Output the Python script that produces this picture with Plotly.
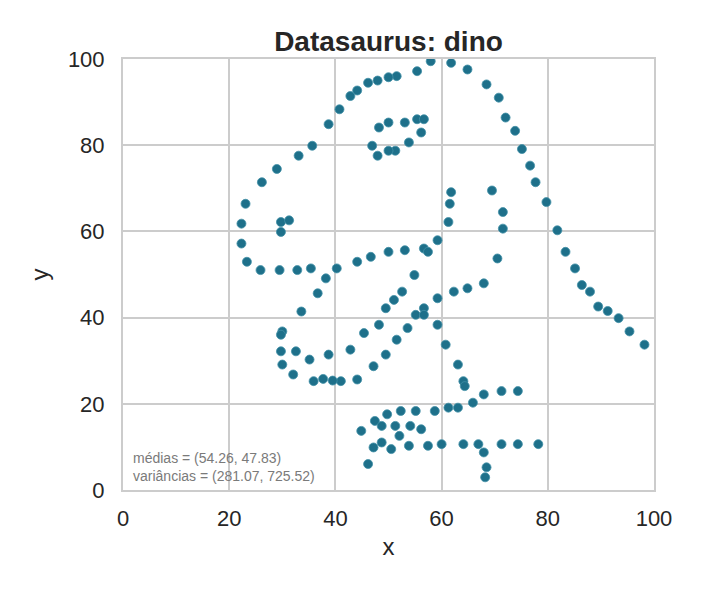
import plotly.graph_objects as go
import numpy as np

x = [55.3846,51.5385,46.1538,42.8205,40.7692,38.7179,35.6410,33.0769,28.9744,26.1538,
     23.0769,22.3077,22.3077,23.3333,25.8974,29.4872,32.8205,35.3846,40.2564,44.1026,
     46.6667,50.0000,53.0769,56.6667,59.2308,61.2821,61.5385,61.7949,57.4359,54.8718,
     52.5641,48.2051,49.4872,51.0256,45.3846,42.8205,38.7179,35.1282,32.5641,30.0000,
     33.5897,36.6667,38.2051,29.7436,29.7436,30.0000,32.0513,35.8974,41.0256,44.1026,
     47.1795,49.4872,51.5385,53.5897,55.1282,56.6667,59.2308,62.3077,64.8718,67.9487,
     70.5128,71.5385,71.5385,69.4872,46.9231,48.2051,50.0000,53.0769,55.3846,56.6667,
     56.1538,53.8462,51.2821,50.0000,47.9487,29.7436,29.7436,31.2821,57.9487,61.7949,
     64.8718,68.4615,70.7692,72.0513,73.8462,75.1282,76.6667,77.6923,79.7436,81.7949,
     83.3333,85.1282,86.4103,87.9487,89.4872,93.3333,95.3846,98.2051,56.6667,59.2308,
     60.7692,63.0769,64.1026,64.3590,74.3590,71.2821,67.9487,65.8974,63.0769,61.2821,
     58.7179,55.1282,52.3077,49.7436,47.4359,44.8718,48.7179,51.2821,54.1026,56.1538,
     52.0513,48.7179,47.1795,46.1538,50.5128,53.8462,57.4359,60.0000,64.1026,66.9231,
     71.2821,74.3590,78.2051,67.9487,68.4615,68.2051,37.6923,39.4872,91.2821,50.0000,
     47.9487,44.1026]
y = [97.1795,96.0256,94.4872,91.4103,88.3333,84.8718,79.8718,77.5641,74.4872,71.4103,
     66.4103,61.7949,57.1795,52.9487,51.0256,51.0256,51.0256,51.4103,51.4103,52.9487,
     54.1026,55.2564,55.6410,56.0256,57.9487,62.1795,66.4103,69.1026,55.2564,49.8718,
     46.0256,38.3333,42.1795,44.1026,36.4103,32.5641,31.4103,30.2564,32.1795,36.7949,
     41.4103,45.6410,49.1026,36.0256,32.1795,29.1026,26.7949,25.2564,25.2564,25.6410,
     28.7180,31.4103,34.8718,37.5641,40.6410,42.1795,44.4872,46.0256,46.7949,47.9487,
     53.7180,60.6410,64.4872,69.4872,79.8718,84.1026,85.2564,85.2564,86.0256,86.0256,
     82.9487,80.6410,78.7180,78.7180,77.5641,59.8718,62.1795,62.5641,99.4872,99.1026,
     97.5641,94.1026,91.0256,86.4103,83.3333,79.1026,75.2564,71.4103,66.7949,60.2564,
     55.2564,51.4103,47.5641,46.0256,42.5641,39.8718,36.7949,33.7180,40.6410,38.3333,
     33.7180,29.1026,25.2564,24.1026,22.9487,22.9487,22.1795,20.2564,19.1026,19.1026,
     18.3333,18.3333,18.3333,17.5641,16.0256,13.7180,14.8718,14.8718,14.8718,14.1026,
     12.5641,11.0256,9.8718,6.0256,9.4872,10.2564,10.2564,10.6410,10.6410,10.6410,
     10.6410,10.6410,10.6410,8.7180,5.2564,2.9487,25.7692,25.3846,41.5385,95.7692,
     95.0000,92.6923]

title = "Datasaurus: dino"
xa, ya = np.array(x), np.array(y)
mean_txt = f"médias = ({xa.mean():.2f}, {ya.mean():.2f})"
var_txt = f"variâncias = ({xa.var(ddof=1):.2f}, {ya.var(ddof=1):.2f})"

fig = go.Figure()
fig.add_trace(go.Scatter(
    x=x, y=y, mode="markers",
    marker=dict(size=9, color="rgb(30,112,138)",
                line=dict(width=0.8, color="rgb(66,144,167)")),
    showlegend=False))

fig.add_annotation(x=1.5, y=1.0, xref="x", yref="y", xanchor="left", yanchor="bottom",
                   text=mean_txt + "<br>" + var_txt, showarrow=False, align="left",
                   font=dict(family="Liberation Sans, Arial", size=14, color="#7a7a7a"))

axis_common = dict(range=[0, 100], tickvals=[0, 20, 40, 60, 80, 100],
                   showgrid=True, gridcolor="#cccccc", gridwidth=1.5,
                   zeroline=False, showline=True, linecolor="#cccccc", linewidth=2,
                   mirror=True, ticks="",
                   tickfont=dict(size=22, color="#262626"),
                   title_font=dict(size=24, color="#262626"))

fig.update_layout(
    width=704, height=594,
    margin=dict(l=115, r=58, t=51, b=112),
    paper_bgcolor="white", plot_bgcolor="white",
    font=dict(family="Liberation Sans, Arial", color="#262626"),
    title=dict(text="<b>" + title + "</b>", x=(115 + 531/2) / 704, xanchor="center",
               y=1 - 33/594, yanchor="middle", font=dict(size=28, color="#262626")),
    xaxis=dict(title=dict(text="x", standoff=8), ticklabelstandoff=8, **axis_common),
    yaxis=dict(title=dict(text="y", standoff=12), ticklabelstandoff=12, **axis_common),
)

fig.write_html("out.html")
